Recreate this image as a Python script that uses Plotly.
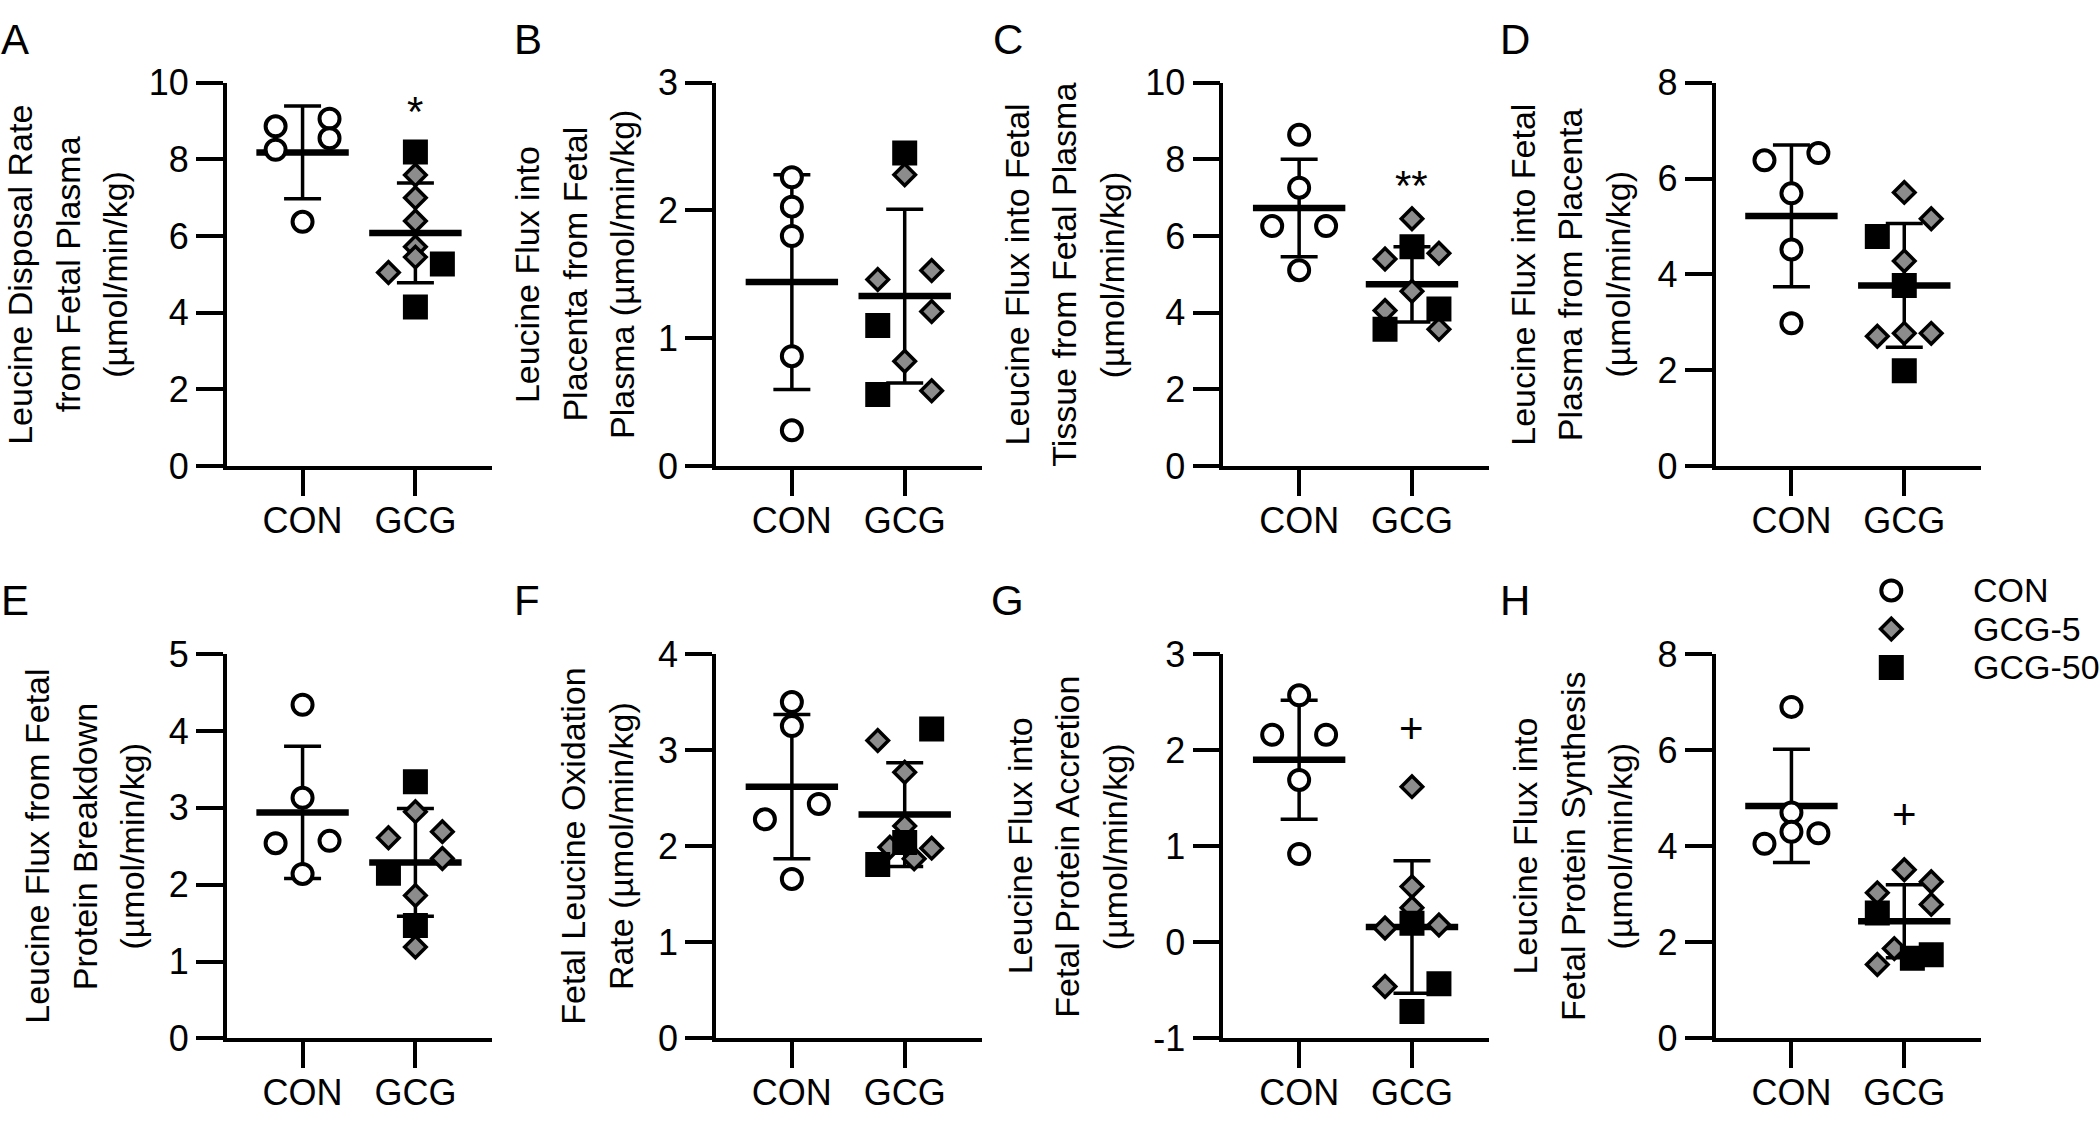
"""Leucine kinetics in CON vs GCG fetuses: 8 scatter panels (mean +/- SD)."""

import plotly.graph_objects as go

# ---------------------------------------------------------------------------
# Data
# ---------------------------------------------------------------------------
GROUPS = ["CON", "GCG"]
SERIES = ["CON", "GCG-5", "GCG-50"]
PANELS = ["A", "B", "C", "D", "E", "F", "G", "H"]

TITLES = {
    "A": ["Leucine Disposal Rate", "from Fetal Plasma", "(µmol/min/kg)"],
    "B": ["Leucine Flux into", "Placenta from Fetal", "Plasma (µmol/min/kg)"],
    "C": ["Leucine Flux into Fetal", "Tissue from Fetal Plasma", "(µmol/min/kg)"],
    "D": ["Leucine Flux into Fetal", "Plasma from Placenta", "(µmol/min/kg)"],
    "E": ["Leucine Flux from Fetal", "Protein Breakdown", "(µmol/min/kg)"],
    "F": ["Fetal Leucine Oxidation", "Rate (µmol/min/kg)"],
    "G": ["Leucine Flux into", "Fetal Protein Accretion", "(µmol/min/kg)"],
    "H": ["Leucine Flux into", "Fetal Protein Synthesis", "(µmol/min/kg)"],
}
Y_RANGE = {"A": [0, 10], "B": [0, 3], "C": [0, 10], "D": [0, 8],
           "E": [0, 5], "F": [0, 4], "G": [-1, 3], "H": [0, 8]}
Y_DTICK = {"A": 2, "B": 1, "C": 2, "D": 2, "E": 1, "F": 1, "G": 1, "H": 2}

# individual animals; *_SLOT = horizontal swarm column (-1 left, 0 centre, 1 right)
CON_VAL = {
    "A": [8.86, 8.25, 9.06, 8.55, 6.37],
    "B": [2.26, 2.03, 1.80, 0.86, 0.28],
    "C": [8.64, 7.26, 6.26, 6.26, 5.11],
    "D": [6.38, 6.53, 5.69, 4.52, 2.98],
    "E": [4.34, 3.13, 2.54, 2.57, 2.14],
    "F": [3.50, 3.25, 2.28, 2.44, 1.66],
    "G": [2.57, 2.16, 2.16, 1.69, 0.92],
    "H": [6.90, 4.70, 4.30, 4.05, 4.27],
}
CON_SLOT = {
    "A": [-1, -1, 1, 1, 0],
    "B": [0, 0, 0, 0, 0],
    "C": [0, 0, -1, 1, 0],
    "D": [-1, 1, 0, 0, 0],
    "E": [0, 0, -1, 1, 0],
    "F": [0, 0, -1, 1, 0],
    "G": [0, -1, 1, 0, 0],
    "H": [0, 0, 0, -1, 1],
}
GCG5_VAL = {
    "A": [7.59, 7.00, 6.39, 5.72, 5.45, 5.05],
    "B": [2.28, 1.46, 1.53, 1.21, 0.82, 0.59],
    "C": [6.45, 5.40, 5.55, 4.56, 4.06, 3.57],
    "D": [5.71, 5.16, 4.28, 2.71, 2.77, 2.77],
    "E": [2.95, 2.61, 2.69, 2.34, 1.86, 1.19],
    "F": [3.10, 2.77, 2.21, 1.98, 1.99, 1.87],
    "G": [1.62, 0.58, 0.36, 0.15, 0.18, -0.46],
    "H": [3.51, 3.26, 3.03, 2.79, 1.87, 1.54],
}
GCG5_SLOT = {
    "A": [0, 0, 0, 0, 0, -1],
    "B": [0, -1, 1, 1, 0, 1],
    "C": [0, -1, 1, 0, -1, 1],
    "D": [0, 1, 0, -1, 0, 1],
    "E": [0, -1, 1, 1, 0, 0],
    "F": [-1, 0, 0, 1, -0.55, 0.35],
    "G": [0, 0, 0, -1, 1, -1],
    "H": [0, 1, -1, 1, -0.37, -1],
}
GCG50_VAL = {
    "A": [8.19, 5.27, 4.15],
    "B": [2.45, 1.10, 0.56],
    "C": [5.72, 4.10, 3.57],
    "D": [4.79, 3.77, 1.99],
    "E": [3.34, 2.15, 1.47],
    "F": [3.22, 2.04, 1.81],
    "G": [0.20, -0.43, -0.72],
    "H": [2.61, 1.67, 1.74],
}
GCG50_SLOT = {
    "A": [0, 1, 0],
    "B": [0, -1, -1],
    "C": [0, 1, -1],
    "D": [-1, 0, 0],
    "E": [0, -1, 0],
    "F": [1, 0, -1],
    "G": [0, 1, 0],
    "H": [-1, 0.3, 1],
}

# group mean and SD as drawn (CON, GCG)
MEAN = {"A": [8.18, 6.08], "B": [1.44, 1.33], "C": [6.73, 4.74], "D": [5.22, 3.77],
        "E": [2.94, 2.29], "F": [2.62, 2.33], "G": [1.90, 0.16], "H": [4.84, 2.44]}
SD = {"A": [1.21, 1.30], "B": [0.84, 0.68], "C": [1.27, 0.98], "D": [1.48, 1.29],
      "E": [0.86, 0.70], "F": [0.75, 0.54], "G": [0.62, 0.69], "H": [1.18, 0.76]}

# significance vs CON, placed above the GCG column
SIG_TEXT = {"A": "*", "C": "**", "G": "+", "H": "+"}
SIG_Y = {"A": 9.49, "C": 7.55, "G": 2.23, "H": 4.67}

# ---------------------------------------------------------------------------
# Layout / style
# ---------------------------------------------------------------------------
W, H = 2100, 1125
FONT = "Liberation Sans, Arial, Helvetica, sans-serif"
COL_X = [227, 717, 1225, 1718]      # y-axis position of each column (px)
ROW_TOP = [65, 658]
ROW_BOT = [463, 1057]
PLOT_W = 266
PX_PER_GROUP = 113.0
X_RANGE = [-76 / PX_PER_GROUP, (PLOT_W - 76) / PX_PER_GROUP]
SLOT_W = 27 / PX_PER_GROUP
TITLE_X = {"A": 68, "B": 576, "C": 1066, "D": 1573,
           "E": 85, "F": 598, "G": 1069, "H": 1575}
TITLE_LINE_GAP = 47.5
LETTER_X = {"A": 15, "B": 529, "C": 1009, "D": 1517,
            "E": 15, "F": 528, "G": 1009, "H": 1517}
LETTER_Y = [20, 602]
LEGEND_X = 1894
LEGEND_Y = [592, 632, 672]
LINE_W = 3.5
TICK_FONT = 36
TITLE_FONT = 34

MARKERS = {
    "CON": dict(symbol="circle", size=20, color="white",
                line=dict(color="black", width=4)),
    "GCG-5": dict(symbol="diamond", size=16.5, color="#8c8c8c",
                  line=dict(color="black", width=3.5)),
    "GCG-50": dict(symbol="square", size=23, color="black",
                   line=dict(color="black", width=2)),
}


def px_x(p):
    return p / W


def px_y(p):
    return 1 - p / H


def y_ticks(panel):
    lo, hi = Y_RANGE[panel]
    step = Y_DTICK[panel]
    vals = list(range(lo, hi + 1, step))
    return vals, [str(v) for v in vals]   # plain hyphen for negatives


fig = go.Figure()
layout = dict(
    width=W, height=H, margin=dict(l=0, r=0, t=0, b=0),
    paper_bgcolor="white", plot_bgcolor="white",
    font=dict(family=FONT, color="black"),
    showlegend=False,
)
annotations = []

for i, p in enumerate(PANELS):
    n = i + 1
    col, row = i % 4, i // 4
    xa, ya = f"x{n}", f"y{n}"
    x0 = COL_X[col]
    tv, tt = y_ticks(p)

    layout[f"xaxis{n}"] = dict(
        domain=[px_x(x0), px_x(x0 + PLOT_W)], anchor=ya, range=X_RANGE,
        tickmode="array", tickvals=[0, 1], ticktext=GROUPS,
        showline=True, linewidth=LINE_W, linecolor="black",
        ticks="outside", ticklen=26, tickwidth=LINE_W, tickcolor="black",
        ticklabelstandoff=-6, tickfont=dict(size=TICK_FONT),
        showgrid=False, zeroline=False, fixedrange=True,
    )
    layout[f"yaxis{n}"] = dict(
        domain=[px_y(ROW_BOT[row]), px_y(ROW_TOP[row])], anchor=xa,
        range=Y_RANGE[p], tickmode="array", tickvals=tv, ticktext=tt,
        showline=True, linewidth=LINE_W, linecolor="black",
        ticks="outside", ticklen=27, tickwidth=LINE_W, tickcolor="black",
        ticklabelstandoff=0, tickfont=dict(size=TICK_FONT),
        showgrid=False, zeroline=False, fixedrange=True,
    )

    # mean line + SD error bars
    fig.add_trace(go.Scatter(
        x=[0, 1], y=MEAN[p], xaxis=xa, yaxis=ya, mode="markers",
        marker=dict(symbol="line-ew", size=66, color="black",
                    line=dict(color="black", width=6.5)),
        error_y=dict(type="data", array=SD[p], symmetric=True,
                     width=18.5, thickness=LINE_W, color="black"),
        hoverinfo="skip",
    ))

    # individual animals
    groups = [
        ("CON", 0, CON_VAL[p], CON_SLOT[p]),
        ("GCG-5", 1, GCG5_VAL[p], GCG5_SLOT[p]),
        ("GCG-50", 1, GCG50_VAL[p], GCG50_SLOT[p]),
    ]
    for name, gx, vals, slots in groups:
        fig.add_trace(go.Scatter(
            x=[gx + s * SLOT_W for s in slots], y=vals,
            xaxis=xa, yaxis=ya, mode="markers", name=name,
            marker=MARKERS[name], cliponaxis=False,
        ))

    # axis title, one annotation per line so the line pitch matches
    lines = TITLES[p]
    for k, txt in enumerate(lines):
        cx = TITLE_X[p] + (k - (len(lines) - 1) / 2) * TITLE_LINE_GAP
        annotations.append(dict(
            text=txt, textangle=-90, xref="paper", yref="paper",
            x=px_x(cx), y=px_y((ROW_TOP[row] + ROW_BOT[row]) / 2),
            xanchor="center", yanchor="middle", showarrow=False,
            font=dict(size=TITLE_FONT),
        ))
    # panel letter
    annotations.append(dict(
        text=p, xref="paper", yref="paper",
        x=px_x(LETTER_X[p]), y=px_y(LETTER_Y[row]),
        xanchor="center", yanchor="middle", showarrow=False,
        font=dict(size=42),
    ))
    # significance mark
    if p in SIG_TEXT:
        annotations.append(dict(
            text=SIG_TEXT[p], xref=xa, yref=ya, x=1, y=SIG_Y[p],
            xanchor="center", yanchor="middle", showarrow=False,
            yshift=-9 if "*" in SIG_TEXT[p] else 0,
            font=dict(size=42),
        ))

# legend drawn on its own small hidden axis pair (top-right of panel H)
pitch = LEGEND_Y[1] - LEGEND_Y[0]
layout["xaxis9"] = dict(domain=[px_x(LEGEND_X - 14), px_x(LEGEND_X + 14)],
                        anchor="y9", range=[-1, 1], visible=False,
                        fixedrange=True)
layout["yaxis9"] = dict(domain=[px_y(LEGEND_Y[-1] + pitch / 2),
                                px_y(LEGEND_Y[0] - pitch / 2)],
                        anchor="x9", type="category", categoryorder="array",
                        categoryarray=SERIES, range=[2.5, -0.5],
                        tickmode="array", tickvals=SERIES,
                        side="right", showline=False, showgrid=False,
                        zeroline=False, ticks="outside", ticklen=60,
                        tickcolor="rgba(0,0,0,0)", tickfont=dict(size=34),
                        fixedrange=True)
for name in SERIES:
    fig.add_trace(go.Scatter(
        x=[0], y=[name], xaxis="x9", yaxis="y9", mode="markers",
        marker=MARKERS[name], cliponaxis=False, hoverinfo="skip",
    ))

layout["annotations"] = annotations
fig.update_layout(**layout)
fig.write_html("out.html", config={"displayModeBar": False},
               post_script="document.body.style.margin='0';")
